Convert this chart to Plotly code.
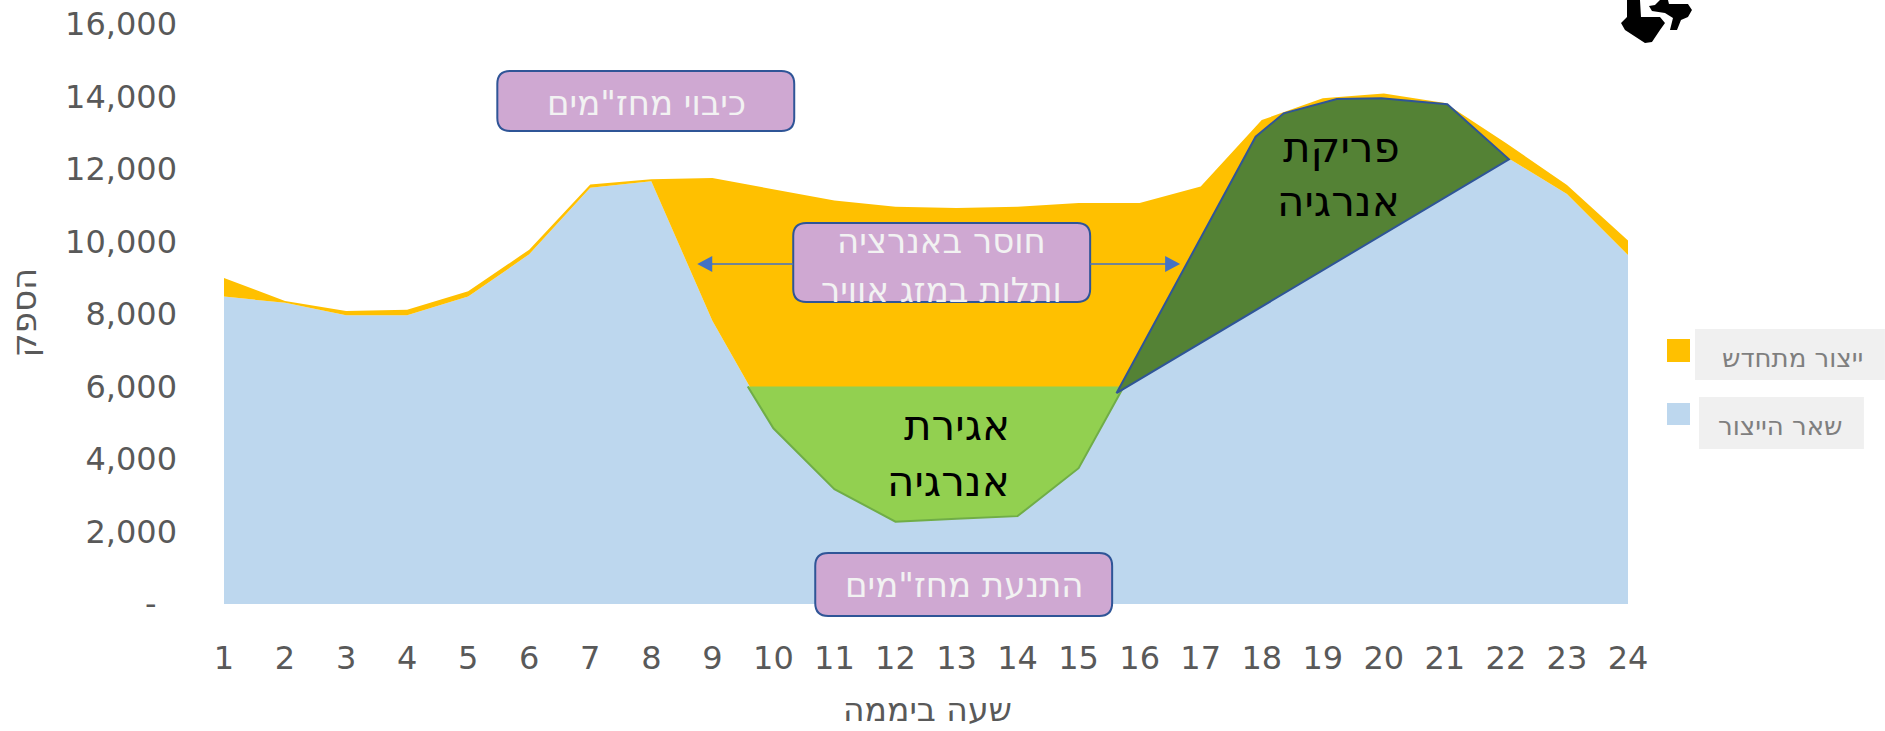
import plotly.graph_objects as go

hours = list(range(1, 25))
other_generation = [8480, 8310, 7965, 7965, 8480, 9645, 11485, 11660, 7815, 4846, 3170, 2270,
                    2350, 2424, 3746, 6800, 10100, 13050, 13830, 13950, 13790, 12340, 11310, 9630]
total_generation = [8990, 8360, 8085, 8120, 8625, 9775, 11570, 11715, 11750, 11450, 11130, 10960,
                    10925, 10960, 11060, 11060, 11515, 13350, 13950, 14085, 13820, 12715, 11560, 10025]
renewable_generation = [t - o for t, o in zip(total_generation, other_generation)]

storage_hours = [9.58, 10, 11, 12, 13, 14, 15, 15.74]
storage_levels = [6000, 4846, 3170, 2270, 2350, 2424, 3746, 6000]
discharge_hours = [15.62, 17.9, 18.36, 19.23, 19.96, 21.04, 22.05]
discharge_levels = [5816, 12892, 13536, 13931, 13949, 13784, 12267]

y_ticks = [0, 2000, 4000, 6000, 8000, 10000, 12000, 14000, 16000]
y_labels = ["-\u00a0\u00a0", "2,000", "4,000", "6,000", "8,000", "10,000", "12,000", "14,000", "16,000"]

FONT = "DejaVu Sans, Liberation Sans, sans-serif"
L, R, T, B = 223.6, 1628.0, 24.0, 604.0
W, H = 1885, 731
px = lambda x: (x - L) / (R - L)
py = lambda y: (B - y) / (B - T)


def path(points, close=True):
    return "M " + " L ".join(f"{px(x):.5f} {py(y):.5f}" for x, y in points) + (" Z" if close else "")


def rounded(x0, y0, x1, y1, r=13):
    a, b, c, d = px(x0), px(x1), py(y0), py(y1)
    rx, ry = r / (R - L), r / (B - T)
    return (f"M {a+rx:.5f} {c:.5f} L {b-rx:.5f} {c:.5f} Q {b:.5f} {c:.5f} {b:.5f} {c-ry:.5f} "
            f"L {b:.5f} {d+ry:.5f} Q {b:.5f} {d:.5f} {b-rx:.5f} {d:.5f} L {a+rx:.5f} {d:.5f} "
            f"Q {a:.5f} {d:.5f} {a:.5f} {d+ry:.5f} L {a:.5f} {c-ry:.5f} Q {a:.5f} {c:.5f} {a+rx:.5f} {c:.5f} Z")


fig = go.Figure()
fig.add_trace(go.Scatter(x=hours, y=other_generation, name="שאר הייצור", stackgroup="g", mode="lines",
                         line=dict(width=0), fillcolor="#BDD7EE"))
fig.add_trace(go.Scatter(x=hours, y=renewable_generation, name="ייצור מתחדש", stackgroup="g", mode="lines",
                         line=dict(width=0), fillcolor="#FFC000"))
fig.add_trace(go.Scatter(x=storage_hours, y=storage_levels, mode="lines", fill="toself", fillcolor="#92D050",
                         line=dict(color="#70AD47", width=2), name="אגירת אנרגיה"))
fig.add_trace(go.Scatter(x=discharge_hours + discharge_hours[:1], y=discharge_levels + discharge_levels[:1],
                         mode="lines", fill="toself", fillcolor="#548235",
                         line=dict(color="#2F5597", width=2), name="פריקת אנרגיה"))

shapes, notes = [], []
BOX = dict(type="path", xref="paper", yref="paper", fillcolor="#CFA8D2", line=dict(color="#2F5597", width=2))


def note(x, y, text, size, color, anchor="center", angle=0):
    notes.append(dict(xref="paper", yref="paper", x=px(x), y=py(y), text=text, showarrow=False, xanchor=anchor,
                      yanchor="middle", align="right" if anchor == "right" else "center", textangle=angle,
                      font=dict(family=FONT, size=size, color=color)))


for box in [(497, 71, 794, 131), (793, 223, 1090, 302), (815, 553, 1112, 616)]:
    shapes.append(dict(path=rounded(*box), **BOX))

# arrows either side of the middle box
ARROW = "#4472C4"
for x0, x1 in [(793, 710), (1090, 1167)]:
    shapes.append(dict(type="path", xref="paper", yref="paper", path=path([(x0, 264), (x1, 264)], False),
                       line=dict(color=ARROW, width=1.5)))
shapes.append(dict(type="path", xref="paper", yref="paper", path=path([(697, 264), (712, 256), (712, 272)]),
                   fillcolor=ARROW, line=dict(width=0)))
shapes.append(dict(type="path", xref="paper", yref="paper", path=path([(1180, 264), (1165, 256), (1165, 272)]),
                   fillcolor=ARROW, line=dict(width=0)))

# legend swatches and plates
for x0, y0, x1, y1, c in [(1695, 329, 1885, 380, "#F0F0F0"), (1699, 397, 1864, 449, "#F0F0F0"),
                          (1667, 339, 1690, 362, "#FFC000"), (1667, 403, 1690, 425, "#BDD7EE")]:
    shapes.append(dict(type="rect", xref="paper", yref="paper", x0=px(x0), x1=px(x1), y0=py(y0), y1=py(y1),
                       fillcolor=c, line=dict(width=0)))

# cropped black cursor icon at the top right
icon = [(1627, 0), (1640, 0), (1641, 17), (1660, 17), (1665, 23), (1660, 30), (1652, 42), (1645, 43),
        (1625, 30), (1621, 23), (1627, 17)]
icon2 = [(1649, 6), (1655, 5), (1660, 0), (1668, 0), (1669, 4), (1688, 4), (1692, 10), (1688, 17), (1681, 20),
         (1677, 30), (1670, 30), (1673, 18), (1665, 13), (1652, 11)]
for pts in (icon, icon2):
    shapes.append(dict(type="path", xref="paper", yref="paper", path=path(pts), fillcolor="#000000",
                       line=dict(width=0)))

note(646, 103, 'כיבוי מחז"מים', 34, "#F2F2F2")
note(941, 241, "חוסר באנרציה", 34, "#F2F2F2")
note(941, 290, "ותלות במזג אוויר", 34, "#F2F2F2")
note(964, 585, 'התנעת מחז"מים', 34, "#F2F2F2")
note(1012, 425, "אגירת", 42, "#000000", "right")
note(1012, 481, "אנרגיה", 42, "#000000", "right")
note(1402, 147, "פריקת", 42, "#000000", "right")
note(1402, 202, "אנרגיה", 42, "#000000", "right")
note(1793, 358, "ייצור מתחדש", 26, "#7F7F7F")
note(1781, 426, "שאר הייצור", 26, "#7F7F7F")
note(24, 312, "הספק", 34, "#595959", angle=-90)
note(927, 709, "שעה ביממה", 33, "#595959")

fig.update_layout(
    width=W, height=H, autosize=False, showlegend=False, paper_bgcolor="white", plot_bgcolor="white",
    margin=dict(l=L, r=W - R, t=T, b=H - B, pad=0),
    font=dict(family=FONT, color="#595959"),
    shapes=shapes, annotations=notes,
    xaxis=dict(range=[1, 24], tickmode="array", tickvals=hours, ticktext=[str(h) for h in hours], ticks="",
               showgrid=False, zeroline=False, showline=False, automargin=False,
               tickfont=dict(size=32, color="#595959"), ticklabelstandoff=32),
    yaxis=dict(range=[0, 16000], tickmode="array", tickvals=y_ticks, ticktext=y_labels, ticks="",
               showgrid=False, zeroline=False, showline=False, automargin=False,
               tickfont=dict(size=32, color="#595959"), ticklabelstandoff=46),
)
fig.write_html("out.html", config=dict(displayModeBar=False),
               post_script="document.body.style.margin='0';document.body.style.overflow='hidden';")
